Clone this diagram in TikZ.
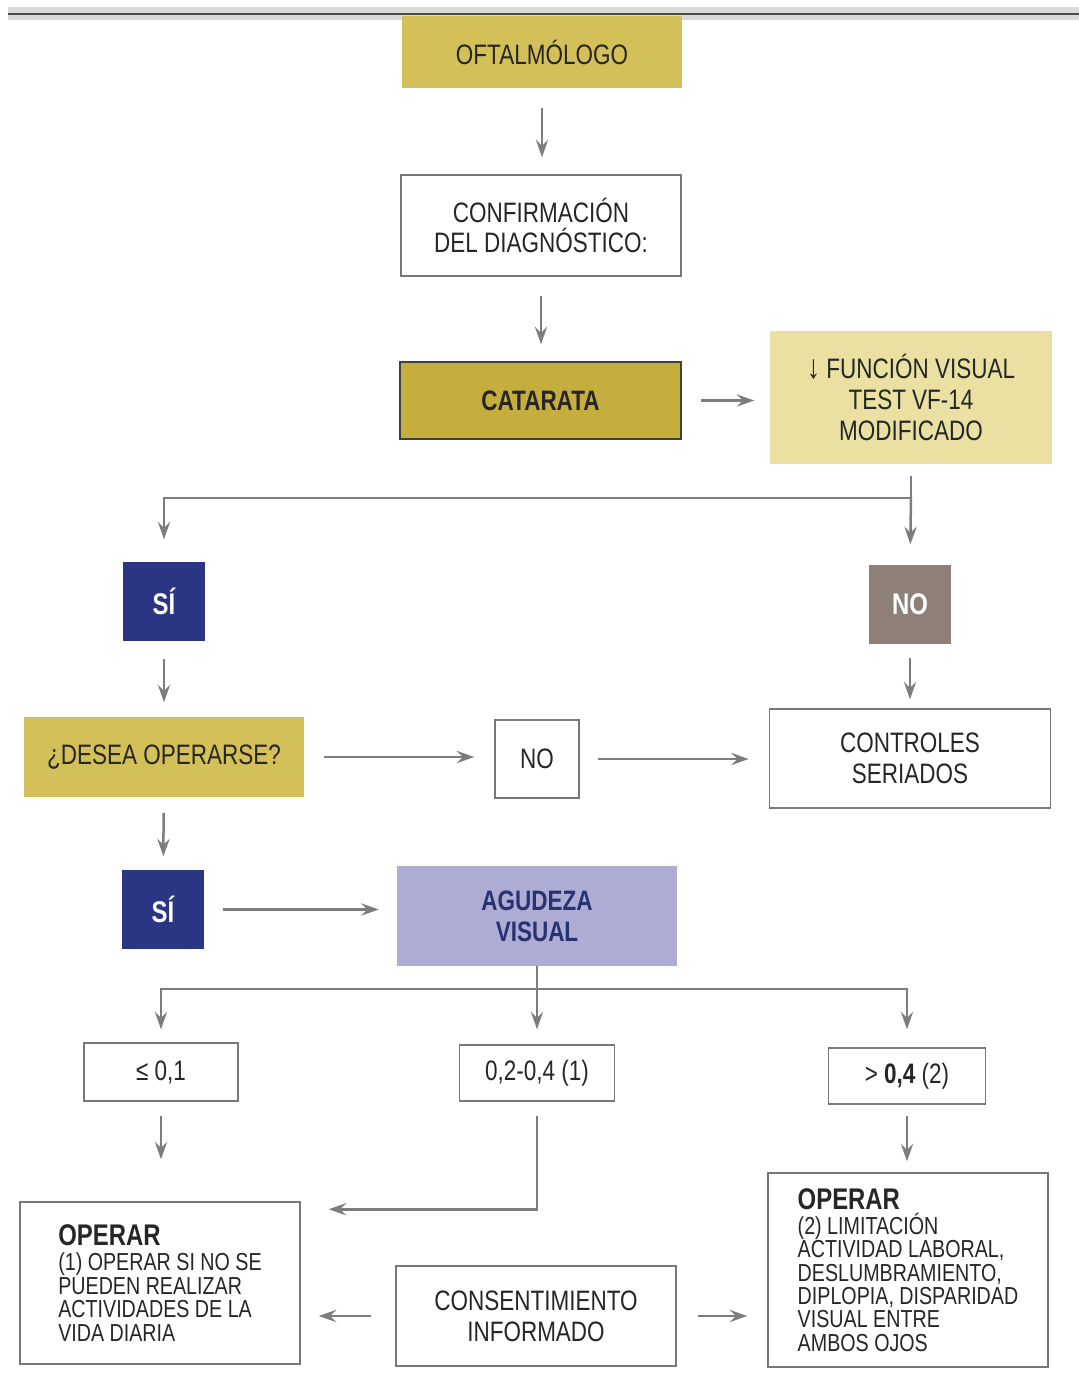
\documentclass[tikz,border=0pt]{standalone}
\usepackage{fontspec}
\setmainfont{Liberation Sans}[FakeStretch=0.8]
\usetikzlibrary{arrows.meta}

\newlength{\du}
\setlength{\du}{0.02cm}

\definecolor{ocre}{RGB}{212,192,88}
\definecolor{ocreoscuro}{RGB}{198,174,62}
\definecolor{ocreclaro}{RGB}{233,224,162}
\definecolor{azulsi}{RGB}{42,54,132}
\definecolor{grisno}{RGB}{142,128,120}
\definecolor{lila}{RGB}{172,172,212}
\definecolor{borde}{RGB}{120,120,120}
\definecolor{flecha}{RGB}{125,125,125}
\definecolor{textoazul}{RGB}{40,50,110}

\tikzset{
  caja/.style={draw=borde, line width=1.5\du, align=center, inner sep=0pt,
    text=black!85, font=\fontsize{16}{17.5}\selectfont},
  cajaocre/.style={caja, fill=ocre, draw=ocre},
  cajasi/.style={caja, fill=azulsi, draw=azulsi, text=white,
    minimum width=81\du, minimum height=77\du, font=\fontsize{17}{18}\selectfont\bfseries},
  cajanota/.style={caja, align=left, font=\fontsize{14}{13.3}\selectfont},
  conector/.style={draw=flecha, line width=2.5\du,
    -{Stealth[length=10pt, width=7pt, inset=3.5pt]}},
  linea/.style={draw=flecha, line width=2.5\du}
}

\begin{document}
\begin{tikzpicture}[x=1\du, y=-1\du]
\useasboundingbox (0,0) rectangle (1079,1384);
% barra superior
\fill[gray!30] (8,7) rectangle (1079,20);
\draw[line width=2.5\du, gray!60!black] (8,14) -- (1079,14);

% cajas
\node[cajaocre, minimum width=278\du, minimum height=71\du] (oftalmologo) at (542,52) {OFTALMÓLOGO};
\node[caja, minimum width=280\du, minimum height=101\du] (confirmacion) at (541,225.5) {CONFIRMACIÓN\\DEL DIAGNÓSTICO:};
\node[caja, fill=ocreoscuro, draw=black!75, minimum width=281\du, minimum height=77\du,
  font=\fontsize{16}{17}\selectfont\bfseries] (catarata) at (540.5,400.5) {CATARATA};
\node[caja, fill=ocreclaro, draw=ocreclaro, minimum width=280\du, minimum height=131\du,
  font=\fontsize{16}{17.5}\selectfont] (funcion) at (911,397.5)
  {{\fontsize{19}{17.5}\selectfont\bfseries ↓} FUNCIÓN VISUAL\\TEST VF-14\\MODIFICADO};

\node[cajasi] (si1) at (164,601.5) {SÍ};
\node[cajasi, fill=grisno, draw=grisno] (no1) at (910,604.5) {NO};

\node[cajaocre, minimum width=279\du, minimum height=78\du] (desea) at (164,757) {¿DESEA OPERARSE?};
\node[caja, minimum width=84\du, minimum height=78\du] (no2) at (537,759) {NO};
\node[caja, minimum width=281\du, minimum height=99\du] (controles) at (910,758.5) {CONTROLES\\SERIADOS};

\node[cajasi] (si2) at (163,909.5) {SÍ};
\node[caja, fill=lila, draw=lila, minimum width=279\du, minimum height=98\du, text=textoazul,
  font=\fontsize{16}{17.5}\selectfont\bfseries] (agudeza) at (537,916) {AGUDEZA\\VISUAL};

\node[caja, minimum width=154\du, minimum height=58\du] (av1) at (161,1072) {≤ 0,1};
\node[caja, minimum width=155\du, minimum height=56\du] (av2) at (537,1073) {0,2-0,4 (1)};
\node[caja, minimum width=157\du, minimum height=56\du] (av3) at (907,1076) {> \textbf{0,4} (2)};

\node[cajanota, minimum width=280\du, minimum height=162\du] (operar1) at (160,1283)
  {{\fontsize{17}{19}\selectfont\bfseries OPERAR}\\[1pt](1) OPERAR SI NO SE\\PUEDEN REALIZAR\\ACTIVIDADES DE LA\\VIDA DIARIA};
\node[caja, minimum width=280\du, minimum height=100\du] (consentimiento) at (536,1316) {CONSENTIMIENTO\\INFORMADO};
\node[cajanota, minimum width=280\du, minimum height=194\du] (operar2) at (908,1270)
  {{\fontsize{17}{19}\selectfont\bfseries OPERAR}\\[1pt](2) LIMITACIÓN\\ACTIVIDAD LABORAL,\\DESLUMBRAMIENTO,\\DIPLOPIA, DISPARIDAD\\VISUAL ENTRE\\AMBOS OJOS};

% puntos de bifurcacion
\path (funcion.south) ++(0,34) coordinate (rama1);
\path (agudeza.south) ++(0,23) coordinate (rama2);

% flechas
\draw[conector, shorten <=20\du, shorten >=17\du] (oftalmologo.south) -- (oftalmologo.south |- confirmacion.north);
\draw[conector, shorten <=19\du, shorten >=17\du] (confirmacion.south) -- (confirmacion.south |- catarata.north);
\draw[conector, shorten <=19\du, shorten >=16\du] (catarata.east) -- (catarata.east -| funcion.west);
\draw[conector, shorten <=12\du, shorten >=23\du] (funcion.south) -- (rama1) -| (si1.north);
\draw[conector, shorten >=21\du] (rama1) -- (no1.north);
\draw[conector, shorten <=18\du, shorten >=15\du] (si1) -- (desea);
\draw[conector, shorten <=14\du, shorten >=9\du] (no1) -- (controles);
\draw[conector, shorten <=20\du, shorten >=20\du] (desea.east) -- (desea.east -| no2.west);
\draw[conector, shorten <=18\du, shorten >=20\du] (no2.east) -- (no2.east -| controles.west);
\draw[conector, shorten <=16\du, shorten >=14\du] (desea) -- (si2);
\draw[conector, shorten <=19\du, shorten >=18\du] (si2.east) -- (si2.east -| agudeza.west);
\draw[conector, shorten >=15\du] (agudeza.south) -- (av2.north);
\draw[conector, shorten >=13\du] (rama2) -| (av1.north);
\draw[conector, shorten >=18\du] (rama2) -| (av3.north);
\draw[conector, shorten <=14\du, shorten >=42\du] (av1.south) -- (av1.south |- operar1.north);
\draw[conector, shorten <=14\du, shorten >=28\du] (av2.south) |- ([yshift=-8\du]operar1.north east);
\draw[conector, shorten <=11\du, shorten >=11\du] (av3.south) -- (av3.south |- operar2.north);
\draw[conector, shorten <=24\du, shorten >=18\du] (consentimiento.west) -- (consentimiento.west -| operar1.east);
\draw[conector, shorten <=21\du, shorten >=20\du] (consentimiento.east) -- (consentimiento.east -| operar2.west);
\end{tikzpicture}
\end{document}
